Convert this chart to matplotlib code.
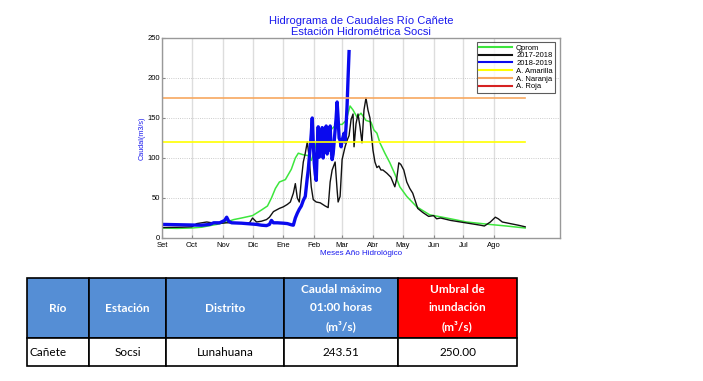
import matplotlib
matplotlib.use('Agg')
import matplotlib.pyplot as plt

plt.rcParams['font.family'] = ['Liberation Sans', 'DejaVu Sans']

# month labels of the hydrological year (day index from 1 Sep)
month_days = [0, 30, 61, 91, 122, 153, 181, 212, 242, 273, 303, 334]
month_labels = ['Set', 'Oct', 'Nov', 'Dic', 'Ene', 'Feb', 'Mar', 'Abr',
                'May', 'Jun', 'Jul', 'Ago']

# Qprom (average)
qprom_day = [0, 15, 30, 40, 46, 55, 65, 72, 80, 91, 100, 106, 110, 114, 118,
             124, 130, 134, 137, 142, 147, 150, 153, 156, 159, 163, 168, 172,
             176, 181, 185, 189, 192, 196, 200, 205, 210, 213, 216, 219, 224,
             229, 234, 239, 246, 256, 269, 286, 306, 329, 346, 365]
qprom_val = [12.5, 12, 12.5, 13.5, 15, 17, 20, 23, 25, 28, 35, 40, 50, 62, 70,
             73, 86, 100, 106, 104, 103, 97, 108, 125, 135, 138, 133, 138,
             142, 142, 147, 165, 160, 151, 156, 147, 145, 135, 131, 119, 106,
             94, 80, 64, 52, 39, 29, 25, 20, 17, 15, 12.5]

# 2017-2018
q17_day = [0, 20, 30, 35, 45, 55, 65, 75, 88, 91, 95, 100, 105, 108, 112, 118,
           122, 126, 129, 132, 134, 136, 138, 140, 142, 144, 146, 148, 150,
           152, 155, 159, 164, 167, 169, 171, 174, 176, 177, 179, 181, 184,
           186, 188, 190, 192, 193, 195, 197, 199, 201, 203, 205, 207, 209,
           210, 212, 214, 216, 218, 220, 222, 226, 230, 234, 236, 238, 240,
           243, 246, 249, 252, 257, 262, 268, 273, 276, 280, 290, 300, 310,
           320, 324, 330, 335, 338, 342, 350, 358, 365]
q17_val = [13, 13.5, 14, 18, 20, 18, 19, 19, 19, 25, 20, 21, 23, 26, 33, 37,
           39, 42, 45, 56, 68, 50, 45, 72, 95, 106, 120, 100, 64,
           48, 45, 44, 40, 38, 70, 85, 95, 60, 45, 52, 98, 114,
           122, 128, 148, 155, 114, 143, 155, 139, 119, 160, 175, 160, 150,
           135, 110, 95, 88, 90, 85, 85, 81, 76, 64, 75, 94, 92,
           85, 70, 62, 56, 37, 32, 27, 28, 24, 25, 22, 20, 18,
           16, 15, 20, 26, 24, 20, 18, 16, 14]

# 2018-2019
q18_day = [0, 20, 40, 48, 52, 58, 63, 65, 67, 70, 80, 90, 95, 100, 105, 108,
           110, 112, 116, 122, 126, 130, 132, 134, 136, 138, 140, 142, 144,
           146, 147, 148, 149, 150, 151, 152, 153, 154, 155, 156, 157, 158,
           159, 160, 161, 162, 163, 164, 165, 166, 167, 168, 169, 170, 171,
           172, 173, 174, 175, 176, 177, 178, 179, 180, 181, 183, 184, 185,
           186, 187, 188]
q18_val = [17, 16.5, 16, 17, 19, 19, 22, 26, 21, 19, 18.5, 17.5, 17, 16, 15.5,
           17, 22, 19, 19, 18.5, 18, 16.5, 16, 25, 31, 36, 40, 47, 52,
           75, 85, 100, 114, 130, 150, 120, 94, 80, 72, 110, 139, 101,
           133, 110, 138, 100, 136, 110, 140, 105, 138, 110, 140, 110, 98,
           105, 120, 135, 150, 170, 150, 125, 122, 114, 122, 131, 120, 140,
           165, 200, 233]

# alert thresholds
umbral_names = ['A. Amarilla', 'A. Naranja', 'A. Roja']
umbral_vals = [120, 175, 250]
umbral_colors = ['#ffff00', '#f7a860', '#d62222']

# table
col_headers = ['Río', 'Estación', 'Distrito',
               'Caudal máximo\n01:00 horas\n(m³/s)',
               'Umbral de\ninundación\n(m³/s)']
row_values = ['Cañete', 'Socsi', 'Lunahuana', '243.51', '250.00']
col_widths = [62, 77, 118, 114, 119]
row_heights = [60, 28]

fig = plt.figure(figsize=(7.03, 3.81), dpi=100)
ax = fig.add_axes([162 / 703, 1 - 238 / 381, 398 / 703, 200 / 381])

ax.plot(qprom_day, qprom_val, color='#3de63d', lw=1.1, label='Qprom')
ax.plot(q17_day, q17_val, color='#111111', lw=1.0, label='2017-2018')
ax.plot(q18_day, q18_val, color='#0a0aee', lw=2.4, label='2018-2019')
for name, val, col in zip(umbral_names, umbral_vals, umbral_colors):
    ax.plot([0, 365], [val, val], color=col, lw=1.2, label=name)

ax.set_xlim(0, 400)
ax.set_ylim(0, 250)
ax.set_xticks(month_days)
ax.set_xticklabels(month_labels)
ax.set_yticks([0, 50, 100, 150, 200, 250])
ax.tick_params(direction='in', length=2.5, labelsize=5.5, pad=1.5,
               color='#888888')
ax.tick_params(axis='x', pad=3)
ax.grid(axis='x', color='#dddddd', lw=1.0, ls='-')
ax.grid(axis='y', color='#bbbbbb', lw=0.6, ls=':')
ax.set_axisbelow(True)
for sp in ax.spines.values():
    sp.set_color('#999999')
    sp.set_linewidth(1.0)

ax.set_title('Hidrograma de Caudales Río Cañete\nEstación Hidrométrica Socsi',
             color='#1a1aee', fontsize=8, pad=2, linespacing=1.1)
ax.set_xlabel('Meses Año Hidrológico', color='#1a1aee', fontsize=5.8,
              labelpad=0.5)
ax.set_ylabel('Caudal(m3/s)', color='#1a1aee', fontsize=5.2, labelpad=1)

leg = ax.legend(loc='upper right', bbox_to_anchor=(555 / 703, 1 - 42 / 381),
                bbox_transform=fig.transFigure, fontsize=5.5, frameon=True,
                fancybox=False, handlelength=4.2, labelspacing=0.05,
                borderpad=0.3, handletextpad=0.6, borderaxespad=0)
leg.get_frame().set_edgecolor('#333333')
leg.get_frame().set_linewidth(0.8)
for line in leg.get_lines():
    line.set_linewidth(1.5)

# table of the maximum flow
tax = fig.add_axes([27 / 703, 1 - 366 / 381, 490 / 703, 88 / 381])
tax.axis('off')
tab = tax.table(cellText=[row_values], colLabels=col_headers,
                cellLoc='center', bbox=[0, 0, 1, 1])
tab.auto_set_font_size(False)
total_w = sum(col_widths)
total_h = sum(row_heights)
for (r, c), cell in tab.get_celld().items():
    cell.set_width(col_widths[c] / total_w)
    cell.set_height(row_heights[r] / total_h)
    cell.set_edgecolor('black')
    cell.set_linewidth(1.2)
    txt = cell.get_text()
    txt.set_fontfamily(['Lato', 'DejaVu Sans'])
    txt.set_fontsize(8.5)
    if r == 0:
        cell.set_facecolor('#ff0000' if c == 4 else '#558ed5')
        txt.set_color('white')
        txt.set_fontweight('bold')
        txt.set_linespacing(1.75)
    else:
        cell.set_facecolor('white')
        txt.set_color('black')
        if c == 0:
            cell.set_text_props(ha='left')
            cell.PAD = 0.04

fig.savefig('out.png', dpi=100, facecolor='white')
